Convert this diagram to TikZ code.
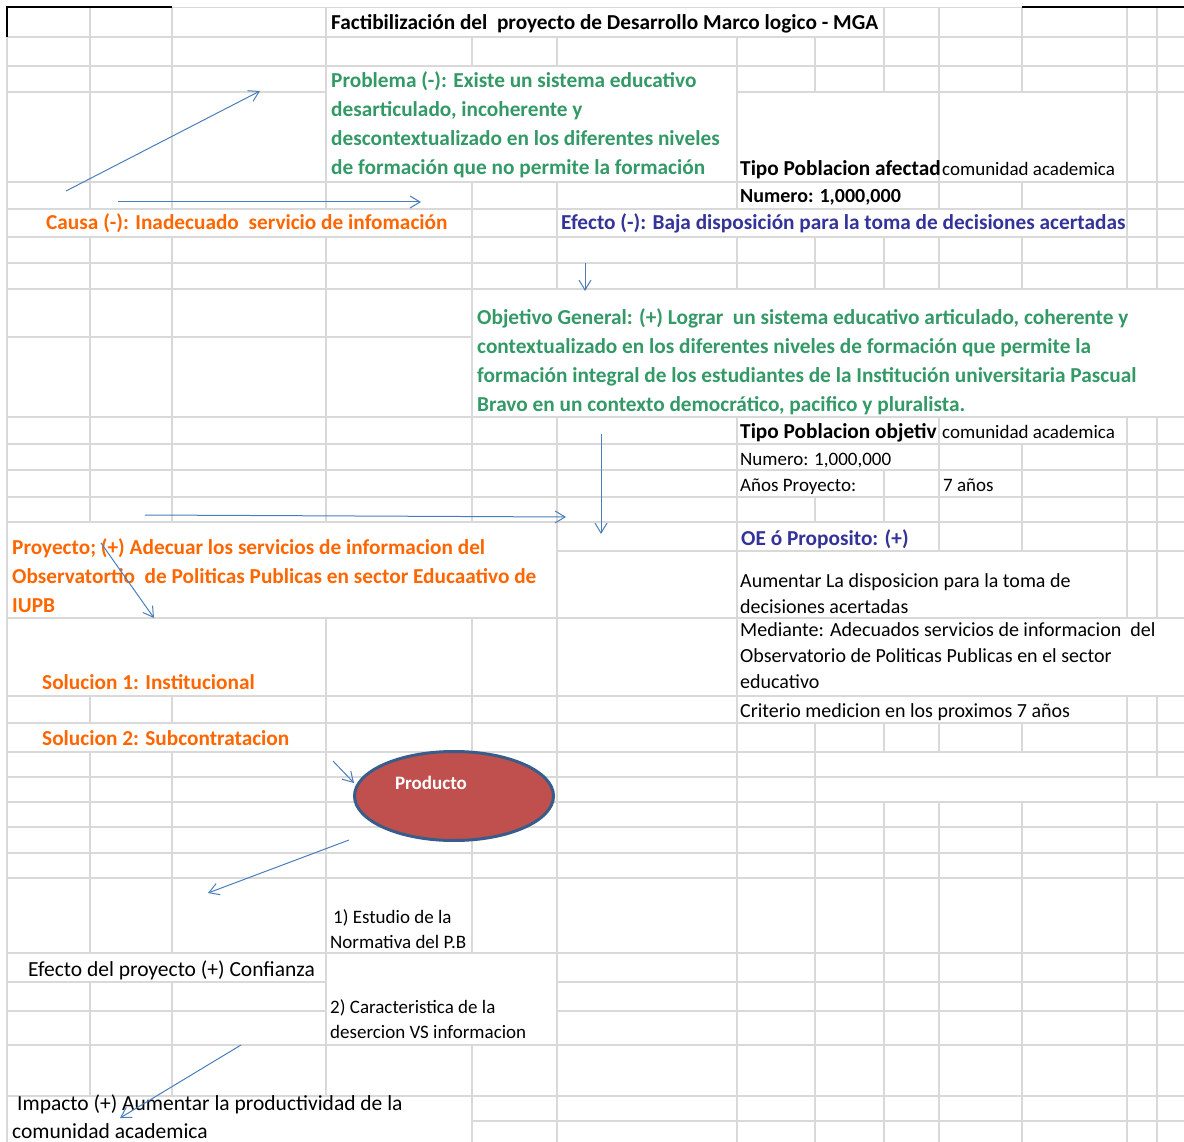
\documentclass[tikz,border=0pt]{standalone}
\usepackage{fontspec}
\setmainfont{Carlito}
\usetikzlibrary{arrows.meta}
\usetikzlibrary{shapes.geometric}

\definecolor{gridgray}{RGB}{217,217,217}
\definecolor{txtgreen}{RGB}{51,153,102}
\definecolor{txtorange}{RGB}{255,102,0}
\definecolor{txtblue}{RGB}{51,51,153}
\definecolor{arrowblue}{RGB}{74,126,187}
\definecolor{prodred}{RGB}{192,80,77}
\definecolor{prodedge}{RGB}{56,93,138}

\begin{document}
\begin{tikzpicture}[x=1pt,y=-1pt,
	gridline/.style={draw=gridgray,line width=1.3pt},
	celltxt/.style={anchor=base west,inner sep=0pt,align=left,font=\fontsize{19}{25}\selectfont},
	medtxt/.style={celltxt,font=\fontsize{20}{26}\selectfont},
	boldtxt/.style={celltxt,font=\fontsize{21.3}{29}\selectfont\bfseries},
	greentxt/.style={boldtxt,text=txtgreen},
	orangetxt/.style={boldtxt,text=txtorange},
	bluetxt/.style={boldtxt,text=txtblue},
	bigtxt/.style={celltxt,font=\fontsize{21.5}{28}\selectfont},
	prodshape/.style={ellipse,fill=prodred,draw=prodedge,line width=3pt,minimum width=199pt,minimum height=89pt,inner sep=0pt},
	prodtxt/.style={inner sep=0pt,text=white,font=\fontsize{19}{23}\selectfont\bfseries},
	link/.style={draw=arrowblue,line width=1pt,-{Straight Barb[length=10pt,width=12pt]}}]
			
			\useasboundingbox (0,0) rectangle (1184,1142);
			\fill[white] (0,0) rectangle (1184,1142);
			
			\foreach \ya/\yb/\cols in {7.5/37/{90,172,326,884,939,1022,1127,1157},
				37/66/{90,172,326,472,557,737,815,884,939,1022,1127,1157},
				66/92/{90,172,326,737,815,884,939,1022,1127,1157},
				92/182/{90,172,326,737,939,1127,1157},
				182/209/{90,172,326,472,557,737,939,1022,1127,1157},
				209/237/{472,557,1127,1157},
				237/289/{90,172,326,472,557,737,815,884,939,1022,1127,1157},
				289/417/{90,172,326,472},
				417/444/{90,172,326,472,557,737,939,1127,1157},
				444/470/{90,172,326,472,557,737,939,1022,1127,1157},
				470/497/{90,172,326,472,557,737,884,939,1022,1127,1157},
				497/522/{90,172,326,472,557,737,815,884,939,1022,1127,1157},
				522/551/{557,737,939,1022,1127,1157},
				551/618/{557,737,1127,1157},
				618/696/{326,472,557,737},
				696/723/{90,172,326,472,557,737,1127,1157},
				723/752/{326,472,557,737,815,884,939,1022,1127,1157},
				752/777/{90,172,326,472,557,737,815,1127,1157},
				777/802/{90,172,326,472,557,737,815,1127},
				802/953/{90,172,326,472,557,737,815,884,939,1022,1127,1157},
				953/982/{326,557,737,815,884,939,1022,1127,1157},
				982/1045/{90,172,326,557,737,815,884,939,1022,1127,1157},
				1045/1096/{90,172,326,472,557,737,815,884,939,1022,1127,1157},
				1096/1142/{472,557,737,815,884,939,1022,1127,1157}}
			\foreach \x in \cols {\draw[gridline] (\x,\ya) -- (\x,\yb);}
			
			\foreach \y/\xa/\xb in {7.5/172/1022, 37/7/1184, 66/7/1184, 92/7/326, 92/737/1184,
				182/7/1184, 209/7/1184, 237/7/1184, 263/7/1184, 289/7/1184, 337/7/472,
				417/7/1184, 444/7/1184, 470/7/1184, 497/7/1184, 522/7/1184, 551/557/1184,
				618/7/1184, 696/7/1184, 723/7/1184, 752/7/1184, 777/7/1184, 802/7/1184,
				827/7/1184, 853/7/1184, 878/7/1184, 953/7/1184, 982/7/326, 982/557/1184,
				1011/7/326, 1011/557/1184, 1045/7/1184, 1096/7/1184, 1121/472/1184}
			\draw[gridline] (\xa,\y) -- (\xb,\y);
			
			\draw[gridline] (7,37) -- (7,1142);
			\draw[line width=2pt] (7,37) -- (7,7.5) -- (172,7.5);
			\draw[line width=2pt] (1022,7.5) -- (1184,7.5);
			
			\node[boldtxt] (title) at (331,30) {Factibilización del\ \ proyecto de Desarrollo Marco logico - MGA};
			\node[greentxt] (problema) at (331,175) {Problema (-): Existe un sistema educativo\\desarticulado, incoherente y\\descontextualizado en los diferentes niveles\\de formación que no permite la formación};
			\node[boldtxt] (tipoaf) at (740,176) {Tipo Poblacion afectad};
			\node[celltxt] (comaf) at (942,176) {comunidad academica};
			\node[boldtxt,font=\fontsize{20}{29}\selectfont\bfseries] (numaf) at (740,203) {Numero: 1,000,000};
			\node[orangetxt] (causa) at (46,230) {Causa (-): Inadecuado\ \ servicio de infomación};
			\node[bluetxt] (efecto) at (561,230) {Efecto (-): Baja disposición para la toma de decisiones acertadas};
			
			\node[greentxt] (objetivo) at (477,411) {Objetivo General: (+) Lograr\ \ un sistema educativo articulado, coherente y\\contextualizado en los diferentes niveles de formación que permite la\\formación integral de los estudiantes de la Institución universitaria Pascual\\Bravo en un contexto democrático, pacifico y pluralista.};
			\node[boldtxt] (tipoobj) at (740,438) {Tipo Poblacion objetiv};
			\node[celltxt] (comobj) at (942,438) {comunidad academica};
			\node[celltxt] (numobj) at (740,465) {Numero: 1,000,000};
			\node[celltxt] (anios) at (740,491) {Años Proyecto:};
			\node[celltxt] (anioval) at (943,491) {7 años};
			\node[bluetxt] (oe) at (741,545) {OE ó Proposito: (+)};
			
			\node[orangetxt] (proyecto) at (12,612) {Proyecto; (+) Adecuar los servicios de informacion del\\Observatortio\ \ de Politicas Publicas en sector Educaativo de\\IUPB};
			\node[medtxt] (aumentar) at (740,613) {Aumentar La disposicion para la toma de\\decisiones acertadas};
			\node[medtxt] (mediante) at (740,688) {Mediante: Adecuados servicios de informacion\ \ del\\Observatorio de Politicas Publicas en el sector\\educativo};
			\node[medtxt] (criterio) at (740,717) {Criterio medicion en los proximos 7 años};
			\node[orangetxt] (sol1) at (42,689) {Solucion 1: Institucional};
			\node[orangetxt] (sol2) at (42,745) {Solucion 2: Subcontratacion};
			
			\node[prodshape] (prod) at (454,796) {};
			\node[prodtxt] (prodlbl) at (431,783) {Producto};
			
			\node[celltxt] (estudio) at (330,948) {\hspace{3pt}1) Estudio de la\\Normativa del P.B};
			\node[bigtxt] (efproy) at (28,976) {Efecto del proyecto (+) Confianza};
			\node[celltxt] (caract) at (330,1038) {2) Caracteristica de la\\desercion VS informacion};
			\node[bigtxt] (impacto) at (12,1138) {\hspace{5pt}Impacto (+) Aumentar la productividad de la\\comunidad academica};
			
			\coordinate (causeA) at (66,191);
			\coordinate (probA) at (260,91);
			\coordinate (causeB) at (118,202);
			\coordinate (probB) at (421,202);
			\coordinate (effA) at (585,263);
			\coordinate (objA) at (585,291);
			\coordinate (objB) at (601,434);
			\coordinate (oeA) at (601,534);
			\coordinate (proyA) at (145,515);
			\coordinate (oeB) at (566,517);
			\coordinate (proyB) at (101,543);
			\coordinate (solA) at (154,618);
			\coordinate (solB) at (333,761);
			\coordinate (prodA) at (354,783);
			\coordinate (prodB) at (349,840);
			\coordinate (efA) at (208,893);
			\coordinate (efB) at (241,1045);
			\coordinate (impA) at (120,1118);
			
			\draw[link] (causeA) to (probA);
			\draw[link] (causeB) to (probB);
			\draw[link] (effA) to (objA);
			\draw[link] (objB) to (oeA);
			\draw[link] (proyA) to (oeB);
			\draw[link] (proyB) to (solA);
			\draw[link] (solB) to (prodA);
			\draw[link] (prodB) to (efA);
			\draw[link] (efB) to (impA);
		\end{tikzpicture}
\end{document}
